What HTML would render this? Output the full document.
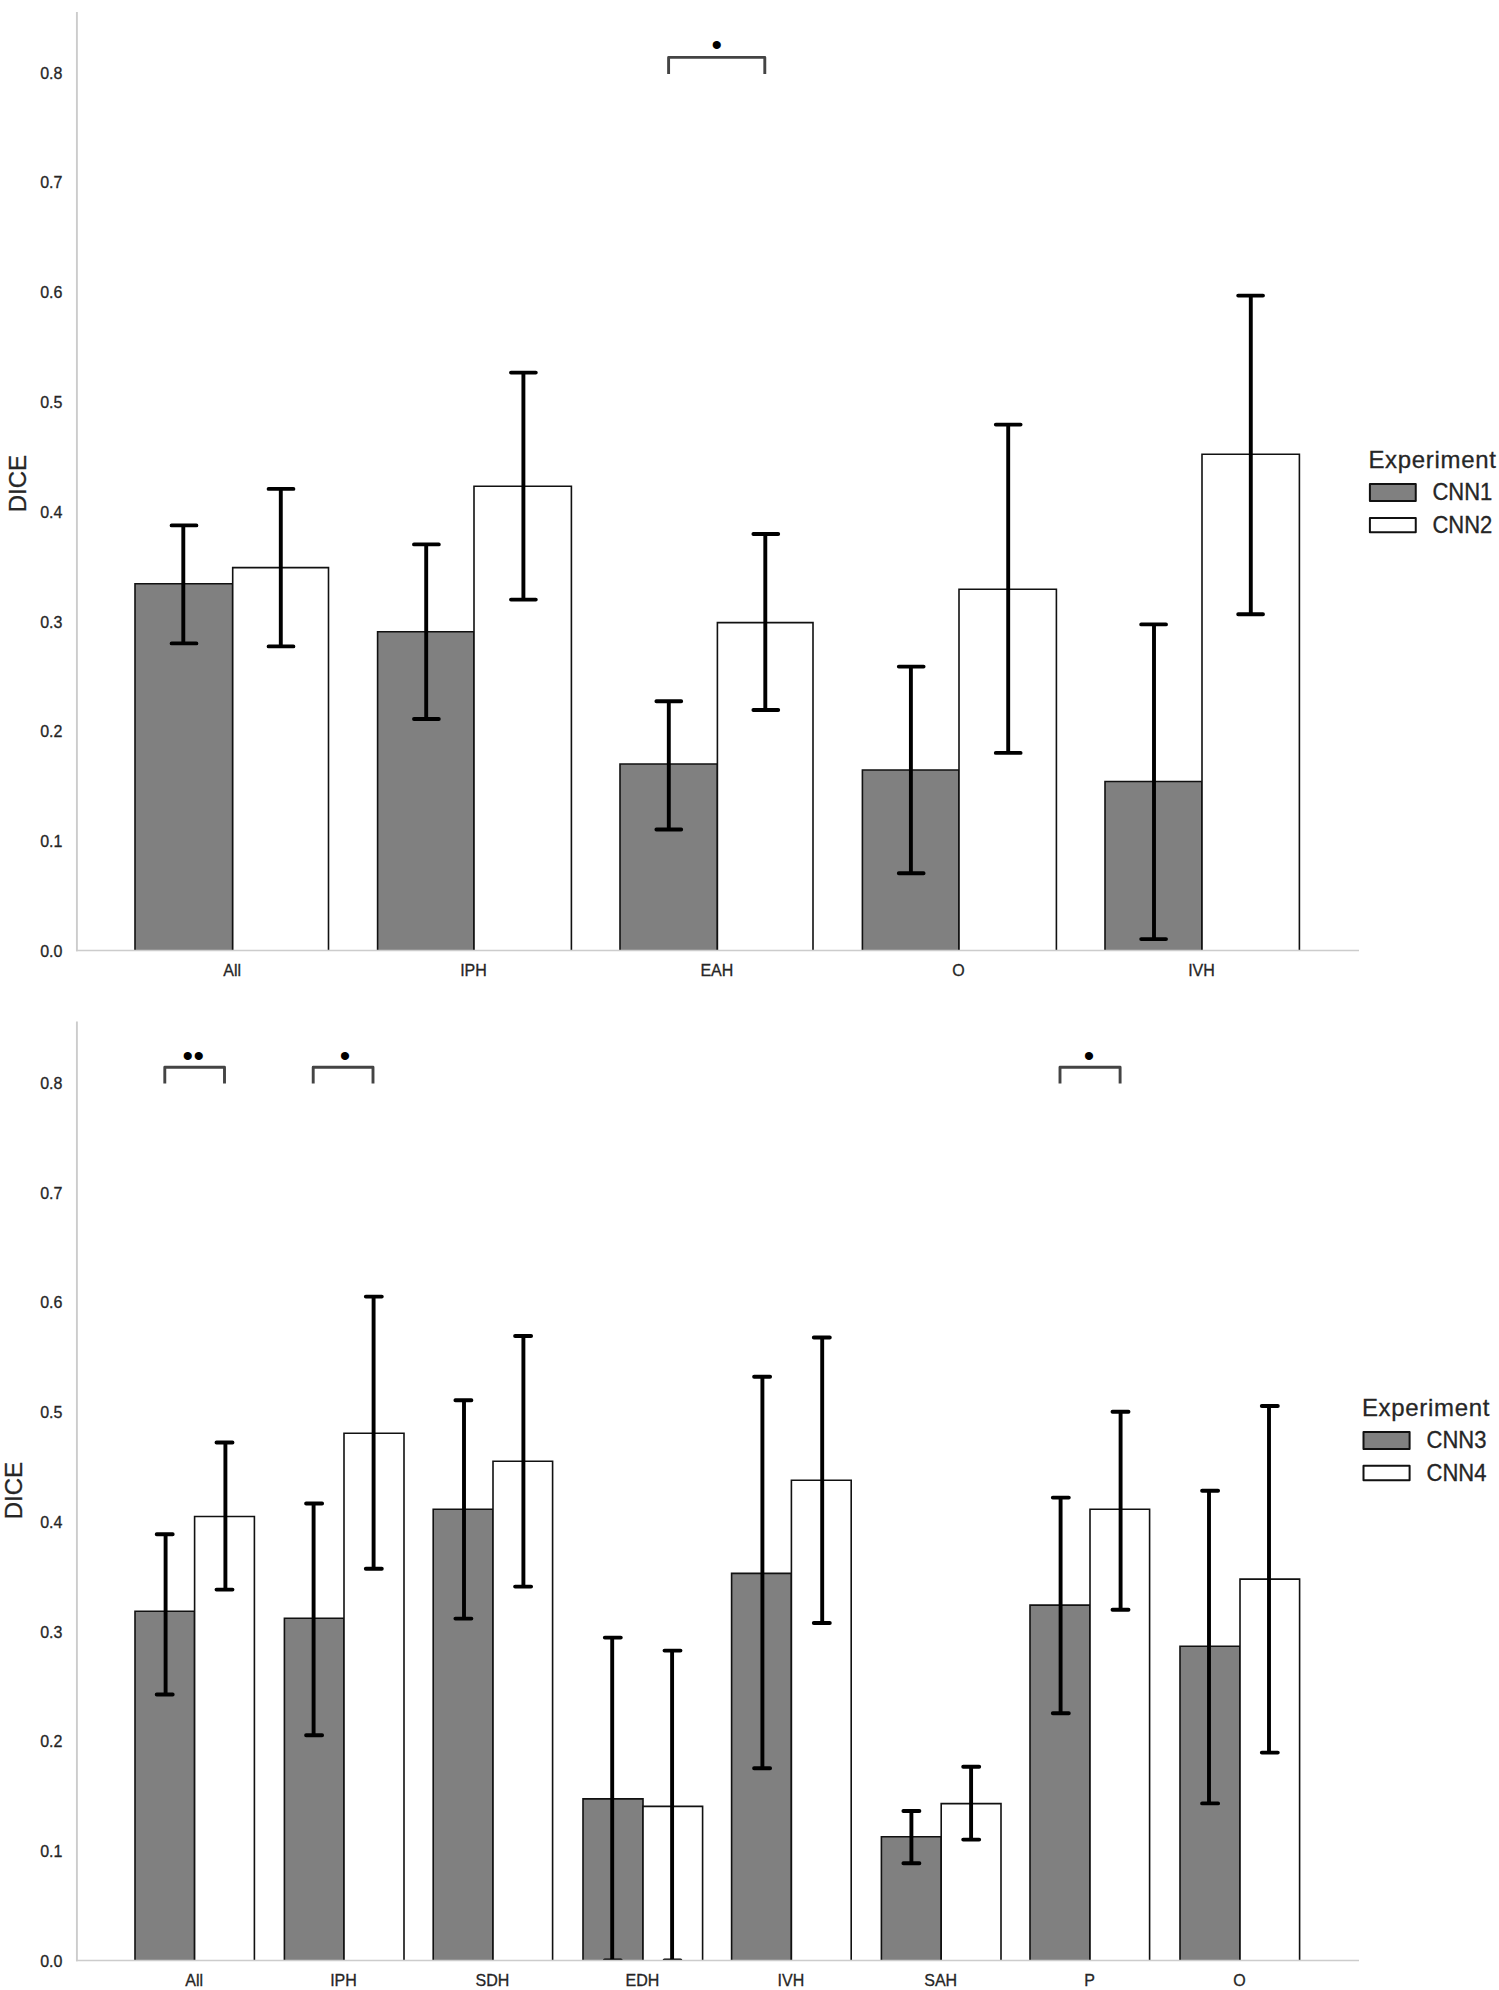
<!DOCTYPE html>
<html lang="en"><head><meta charset="utf-8"><title>DICE bar charts</title>
<style>
html,body{margin:0;padding:0;background:#fff;}
svg{display:block;}
text{font-family:"Liberation Sans",Arial,Helvetica,sans-serif;fill:#262626;stroke:#262626;stroke-width:0.3px;}
.tk{font-size:16px;}
.lg{font-size:22px;}
.lt{font-size:24px;}
.bar{stroke:#111;stroke-width:1.6;stroke-linejoin:miter;}
.err{stroke:#000;stroke-width:3.9;stroke-linecap:butt;fill:none;}
.cap{stroke:#000;stroke-width:3.9;stroke-linecap:round;fill:none;}
.brk{stroke:#444;stroke-width:2.9;fill:none;stroke-linejoin:round;}
.dot{font-size:30px;fill:#000;stroke:none;}
</style></head><body>
<svg width="1499" height="1990" viewBox="0 0 1499 1990">
<rect width="1499" height="1990" fill="#fff"/>
<defs><clipPath id="clip950"><rect x="77" y="12" width="1282" height="938.5"/></clipPath></defs>
<path class="bar" d="M135.0 950.5V583.8H232.7V950.5" fill="#808080"/>
<path class="bar" d="M232.7 950.5V567.6H328.5V950.5" fill="#fff"/>
<path class="bar" d="M377.6 950.5V631.8H474.0V950.5" fill="#808080"/>
<path class="bar" d="M474.0 950.5V486.3H571.4V950.5" fill="#fff"/>
<path class="bar" d="M620.0 950.5V764.0H717.4V950.5" fill="#808080"/>
<path class="bar" d="M717.4 950.5V622.6H813.0V950.5" fill="#fff"/>
<path class="bar" d="M862.4 950.5V770.0H959.0V950.5" fill="#808080"/>
<path class="bar" d="M959.0 950.5V589.3H1056.4V950.5" fill="#fff"/>
<path class="bar" d="M1105.0 950.5V781.5H1202.0V950.5" fill="#808080"/>
<path class="bar" d="M1202.0 950.5V454.2H1299.4V950.5" fill="#fff"/>
<g clip-path="url(#clip950)">
<path class="err" d="M183.3 525.4V643.4"/>
<path class="cap" d="M171.6 525.4H196.4M171.6 643.4H196.4"/>
<path class="err" d="M280.8 488.9V646.4"/>
<path class="cap" d="M268.6 488.9H293.4M268.6 646.4H293.4"/>
<path class="err" d="M426.2 544.4V719.0"/>
<path class="cap" d="M414.0 544.4H438.8M414.0 719.0H438.8"/>
<path class="err" d="M523.4 372.6V599.6"/>
<path class="cap" d="M511.0 372.6H535.8M511.0 599.6H535.8"/>
<path class="err" d="M668.8 701.3V829.5"/>
<path class="cap" d="M656.4 701.3H681.2M656.4 829.5H681.2"/>
<path class="err" d="M765.3 534.0V710.0"/>
<path class="cap" d="M753.4 534.0H778.2M753.4 710.0H778.2"/>
<path class="err" d="M910.9 666.6V873.3"/>
<path class="cap" d="M898.8 666.6H923.6M898.8 873.3H923.6"/>
<path class="err" d="M1008.2 424.6V752.9"/>
<path class="cap" d="M995.8 424.6H1020.6M995.8 752.9H1020.6"/>
<path class="err" d="M1154.0 624.4V939.1"/>
<path class="cap" d="M1141.2 624.4H1166.0M1141.2 939.1H1166.0"/>
<path class="err" d="M1250.8 295.6V614.2"/>
<path class="cap" d="M1238.2 295.6H1263.0M1238.2 614.2H1263.0"/>
</g>
<line x1="76.9" y1="12" x2="76.9" y2="951.3" stroke="#cccccc" stroke-width="1.9"/>
<line x1="76" y1="950.5" x2="1359" y2="950.5" stroke="#cccccc" stroke-width="1.7"/>
<text class="tk" transform="translate(62.4 956.7) scale(1 1.0)" text-anchor="end">0.0</text>
<text class="tk" transform="translate(62.4 847.0) scale(1 1.0)" text-anchor="end">0.1</text>
<text class="tk" transform="translate(62.4 737.2) scale(1 1.0)" text-anchor="end">0.2</text>
<text class="tk" transform="translate(62.4 627.5) scale(1 1.0)" text-anchor="end">0.3</text>
<text class="tk" transform="translate(62.4 517.7) scale(1 1.0)" text-anchor="end">0.4</text>
<text class="tk" transform="translate(62.4 407.9) scale(1 1.0)" text-anchor="end">0.5</text>
<text class="tk" transform="translate(62.4 298.2) scale(1 1.0)" text-anchor="end">0.6</text>
<text class="tk" transform="translate(62.4 188.4) scale(1 1.0)" text-anchor="end">0.7</text>
<text class="tk" transform="translate(62.4 78.7) scale(1 1.0)" text-anchor="end">0.8</text>
<text class="tk" transform="translate(232.2 975.8) scale(1 1.0)" text-anchor="middle">All</text>
<text class="tk" transform="translate(473.5 975.8) scale(1 1.0)" text-anchor="middle">IPH</text>
<text class="tk" transform="translate(716.9 975.8) scale(1 1.0)" text-anchor="middle">EAH</text>
<text class="tk" transform="translate(958.5 975.8) scale(1 1.0)" text-anchor="middle">O</text>
<text class="tk" transform="translate(1201.5 975.8) scale(1 1.0)" text-anchor="middle">IVH</text>
<text class="lt" transform="translate(25.7 483.7) rotate(-90)" text-anchor="middle">DICE</text>
<path class="brk" d="M668.6 74V57.4H764.8V74"/>
<text class="dot" x="716.8" y="55.0" text-anchor="middle">•</text>
<text class="lt" transform="translate(1368.4 468.4) scale(1 0.99)" text-anchor="start" textLength="127.5" lengthAdjust="spacing">Experiment</text>
<rect x="1369.90" y="484.00" width="45.85" height="17.00" fill="#808080" stroke="#111" stroke-width="2" stroke-linejoin="round"/>
<text class="lg" transform="translate(1432.4 499.5) scale(1 1.07)" text-anchor="start">CNN1</text>
<rect x="1369.90" y="517.90" width="45.85" height="14.40" fill="#fff" stroke="#111" stroke-width="2" stroke-linejoin="round"/>
<text class="lg" transform="translate(1432.4 532.7) scale(1 1.07)" text-anchor="start">CNN2</text>
<defs><clipPath id="clip1960"><rect x="77" y="1021.5" width="1282" height="939.0"/></clipPath></defs>
<path class="bar" d="M135.0 1960.5V1611.2H194.6V1960.5" fill="#808080"/>
<path class="bar" d="M194.6 1960.5V1516.5H254.4V1960.5" fill="#fff"/>
<path class="bar" d="M284.4 1960.5V1618.2H344.0V1960.5" fill="#808080"/>
<path class="bar" d="M344.0 1960.5V1433.3H404.0V1960.5" fill="#fff"/>
<path class="bar" d="M433.2 1960.5V1509.3H493.0V1960.5" fill="#808080"/>
<path class="bar" d="M493.0 1960.5V1461.3H552.6V1960.5" fill="#fff"/>
<path class="bar" d="M583.0 1960.5V1798.9H643.0V1960.5" fill="#808080"/>
<path class="bar" d="M643.0 1960.5V1806.4H702.6V1960.5" fill="#fff"/>
<path class="bar" d="M731.6 1960.5V1573.4H791.4V1960.5" fill="#808080"/>
<path class="bar" d="M791.4 1960.5V1480.2H851.2V1960.5" fill="#fff"/>
<path class="bar" d="M881.4 1960.5V1836.7H941.2V1960.5" fill="#808080"/>
<path class="bar" d="M941.2 1960.5V1803.6H1001.0V1960.5" fill="#fff"/>
<path class="bar" d="M1030.0 1960.5V1605.1H1090.0V1960.5" fill="#808080"/>
<path class="bar" d="M1090.0 1960.5V1509.3H1149.6V1960.5" fill="#fff"/>
<path class="bar" d="M1180.0 1960.5V1646.2H1240.0V1960.5" fill="#808080"/>
<path class="bar" d="M1240.0 1960.5V1579.1H1299.6V1960.5" fill="#fff"/>
<g clip-path="url(#clip1960)">
<path class="err" d="M165.6 1534.2V1694.5"/>
<path class="cap" d="M156.7 1534.2H172.7M156.7 1694.5H172.7"/>
<path class="err" d="M225.4 1442.5V1589.6"/>
<path class="cap" d="M216.5 1442.5H232.5M216.5 1589.6H232.5"/>
<path class="err" d="M313.6 1503.5V1735.2"/>
<path class="cap" d="M306.1 1503.5H322.1M306.1 1735.2H322.1"/>
<path class="err" d="M373.6 1296.6V1568.8"/>
<path class="cap" d="M365.8 1296.6H381.8M365.8 1568.8H381.8"/>
<path class="err" d="M464.0 1400.2V1618.6"/>
<path class="cap" d="M455.4 1400.2H471.4M455.4 1618.6H471.4"/>
<path class="err" d="M523.4 1336.0V1586.6"/>
<path class="cap" d="M515.1 1336.0H531.1M515.1 1586.6H531.1"/>
<path class="err" d="M612.2 1637.6V1960.5"/>
<path class="cap" d="M604.8 1637.6H620.8M604.8 1960.5H620.8"/>
<path class="err" d="M672.1 1650.6V1960.5"/>
<path class="cap" d="M664.5 1650.6H680.5M664.5 1960.5H680.5"/>
<path class="err" d="M762.4 1376.7V1768.2"/>
<path class="cap" d="M754.1 1376.7H770.1M754.1 1768.2H770.1"/>
<path class="err" d="M822.2 1337.5V1623.0"/>
<path class="cap" d="M813.8 1337.5H829.8M813.8 1623.0H829.8"/>
<path class="err" d="M911.4 1811.0V1863.2"/>
<path class="cap" d="M903.4 1811.0H919.4M903.4 1863.2H919.4"/>
<path class="err" d="M971.1 1766.8V1839.6"/>
<path class="cap" d="M963.2 1766.8H979.2M963.2 1839.6H979.2"/>
<path class="err" d="M1060.6 1497.6V1713.2"/>
<path class="cap" d="M1052.8 1497.6H1068.8M1052.8 1713.2H1068.8"/>
<path class="err" d="M1120.6 1411.7V1609.8"/>
<path class="cap" d="M1112.5 1411.7H1128.5M1112.5 1609.8H1128.5"/>
<path class="err" d="M1209.0 1490.7V1803.4"/>
<path class="cap" d="M1202.1 1490.7H1218.1M1202.1 1803.4H1218.1"/>
<path class="err" d="M1269.0 1406.0V1752.6"/>
<path class="cap" d="M1261.8 1406.0H1277.8M1261.8 1752.6H1277.8"/>
</g>
<line x1="76.9" y1="1021.5" x2="76.9" y2="1961.3" stroke="#cccccc" stroke-width="1.9"/>
<line x1="76" y1="1960.5" x2="1359" y2="1960.5" stroke="#cccccc" stroke-width="1.7"/>
<text class="tk" transform="translate(62.4 1966.7) scale(1 1.0)" text-anchor="end">0.0</text>
<text class="tk" transform="translate(62.4 1857.0) scale(1 1.0)" text-anchor="end">0.1</text>
<text class="tk" transform="translate(62.4 1747.2) scale(1 1.0)" text-anchor="end">0.2</text>
<text class="tk" transform="translate(62.4 1637.5) scale(1 1.0)" text-anchor="end">0.3</text>
<text class="tk" transform="translate(62.4 1527.7) scale(1 1.0)" text-anchor="end">0.4</text>
<text class="tk" transform="translate(62.4 1418.0) scale(1 1.0)" text-anchor="end">0.5</text>
<text class="tk" transform="translate(62.4 1308.2) scale(1 1.0)" text-anchor="end">0.6</text>
<text class="tk" transform="translate(62.4 1198.5) scale(1 1.0)" text-anchor="end">0.7</text>
<text class="tk" transform="translate(62.4 1088.7) scale(1 1.0)" text-anchor="end">0.8</text>
<text class="tk" transform="translate(194.1 1986.0) scale(1 1.0)" text-anchor="middle">All</text>
<text class="tk" transform="translate(343.5 1986.0) scale(1 1.0)" text-anchor="middle">IPH</text>
<text class="tk" transform="translate(492.5 1986.0) scale(1 1.0)" text-anchor="middle">SDH</text>
<text class="tk" transform="translate(642.5 1986.0) scale(1 1.0)" text-anchor="middle">EDH</text>
<text class="tk" transform="translate(790.9 1986.0) scale(1 1.0)" text-anchor="middle">IVH</text>
<text class="tk" transform="translate(940.7 1986.0) scale(1 1.0)" text-anchor="middle">SAH</text>
<text class="tk" transform="translate(1089.5 1986.0) scale(1 1.0)" text-anchor="middle">P</text>
<text class="tk" transform="translate(1239.5 1986.0) scale(1 1.0)" text-anchor="middle">O</text>
<text class="lt" transform="translate(21.8 1490.7) rotate(-90)" text-anchor="middle">DICE</text>
<path class="brk" d="M164.8 1083.5V1067.3H224.5V1083.5"/>
<text class="dot" x="187.7" y="1066.0" text-anchor="middle">•</text>
<text class="dot" x="198.7" y="1066.0" text-anchor="middle">•</text>
<path class="brk" d="M313.2 1083.5V1067.3H373.0V1083.5"/>
<text class="dot" x="345.0" y="1066.0" text-anchor="middle">•</text>
<path class="brk" d="M1060.0 1083.5V1067.3H1120.1V1083.5"/>
<text class="dot" x="1088.9" y="1066.0" text-anchor="middle">•</text>
<text class="lt" transform="translate(1361.9 1416.2) scale(1 0.99)" text-anchor="start" textLength="127.5" lengthAdjust="spacing">Experiment</text>
<rect x="1363.50" y="1432.00" width="46.10" height="17.00" fill="#808080" stroke="#111" stroke-width="2" stroke-linejoin="round"/>
<text class="lg" transform="translate(1426.5 1447.7) scale(1 1.07)" text-anchor="start">CNN3</text>
<rect x="1363.50" y="1465.80" width="46.10" height="14.50" fill="#fff" stroke="#111" stroke-width="2" stroke-linejoin="round"/>
<text class="lg" transform="translate(1426.5 1480.9) scale(1 1.07)" text-anchor="start">CNN4</text>
</svg></body></html>
